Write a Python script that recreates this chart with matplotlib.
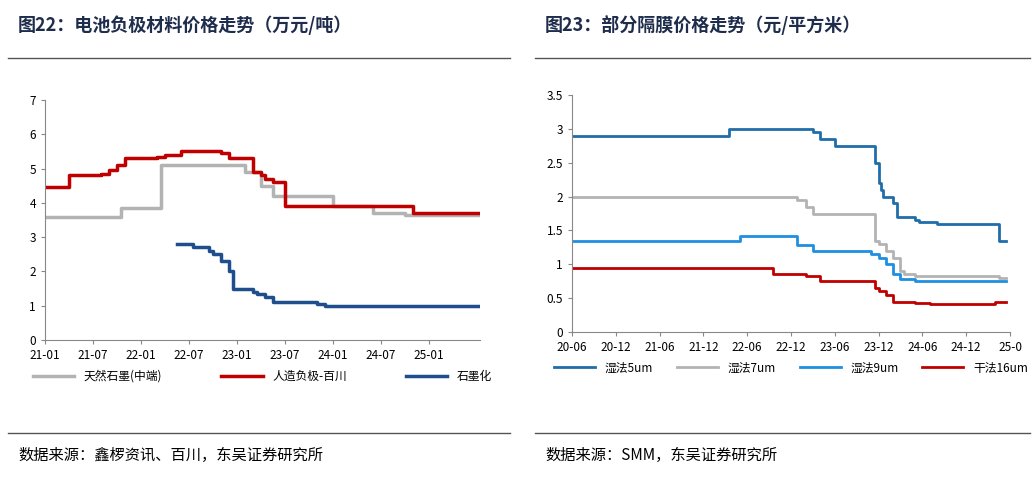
import matplotlib
matplotlib.use("Agg")
import matplotlib.pyplot as plt
import numpy as np
plt.rcParams['font.family'] = ['Noto Sans CJK SC', 'DejaVu Sans']

# Left chart (month index, 0 = 21-01)
l_ticks = ["21-01","21-07","22-01","22-07","23-01","23-07","24-01","24-07","25-01"]
nat_x = [0,9.5,14.5,25,27,28.5,36,41,45,54.2]
nat_y = [3.6,3.85,5.1,4.9,4.5,4.2,3.9,3.7,3.65,3.65]
art_x = [0,3,7,8,9,10,14,15,17,22,23,26,27,27.5,28.5,30,31,46,54.2]
art_y = [4.45,4.8,4.85,4.95,5.1,5.3,5.35,5.4,5.5,5.45,5.3,4.9,4.8,4.7,4.6,3.9,3.9,3.7,3.7]
gra_x = [16.5,18.5,20.5,21,22,23,23.5,24,26,26.5,27.5,28.5,29,34,35,54.2]
gra_y = [2.8,2.7,2.6,2.5,2.3,2.0,1.5,1.5,1.4,1.35,1.25,1.1,1.1,1.05,1.0,1.0]

# Right chart (month index, 0 = 20-06)
r_ticks = ["20-06","20-12","21-06","21-12","22-06","22-12","23-06","23-12","24-06","24-12","25-0"]
w5_x = [0,21.5,33,34,36,41.5,42,42.3,42.6,44,44.5,47,47.5,48,50,58.5,59.5]
w5_y = [2.9,3.0,2.95,2.85,2.75,2.5,2.2,2.1,2.0,1.9,1.7,1.65,1.62,1.62,1.6,1.35,1.35]
w7_x = [0,30.8,32,33,41.5,42,43,44,45,45.5,47,58.5,59.5]
w7_y = [2.0,1.95,1.85,1.75,1.35,1.3,1.2,1.1,0.9,0.85,0.83,0.8,0.8]
w9_x = [0,23,30.8,33,41,42,43,44,45,47,49,59.5]
w9_y = [1.35,1.42,1.28,1.2,1.15,1.1,1.0,0.85,0.78,0.76,0.75,0.75]
d16_x = [0,27.6,32,34,41.5,42,43,44,47,49,58,59.5]
d16_y = [0.95,0.85,0.83,0.75,0.65,0.6,0.55,0.45,0.43,0.42,0.44,0.44]

fig = plt.figure(figsize=(10.35,4.78), dpi=100)
W,H = 1035,478
def ax_at(x0,y0,x1,y1):
    return fig.add_axes([x0/W, 1-y1/H, (x1-x0)/W, (y1-y0)/H])

fig.text(18/W, 1-25/H, "图22：电池负极材料价格走势（万元/吨）", fontsize=13, fontweight='bold', color='#1f2d4d', va='center')
fig.text(545/W, 1-25/H, "图23：部分隔膜价格走势（元/平方米）", fontsize=13, fontweight='bold', color='#1f2d4d', va='center')
for x0,x1 in [(8,510),(535,1030)]:
    fig.add_artist(plt.Line2D([x0/W,x1/W],[1-58/H]*2, color='#555555', lw=1))
    fig.add_artist(plt.Line2D([x0/W,x1/W],[1-433/H]*2, color='#555555', lw=1))
fig.text(18/W, 1-455/H, "数据来源：鑫椤资讯、百川，东吴证券研究所", fontsize=11, va='center')
fig.text(545/W, 1-455/H, "数据来源：SMM，东吴证券研究所", fontsize=11, va='center')

def style(ax):
    for s in ['top','right']: ax.spines[s].set_visible(False)
    for s in ['left','bottom']: ax.spines[s].set_color('#888888')
    ax.tick_params(labelsize=8.5, length=3, color='#888888')

ax1 = ax_at(45,100,480,340)
ax1.step(nat_x, nat_y, where='post', color='#b3b3b3', lw=2.5, label='天然石墨(中端)')
ax1.step(art_x, art_y, where='post', color='#c00000', lw=2.5, label='人造负极-百川')
ax1.step(gra_x, gra_y, where='post', color='#1f4e8c', lw=2.5, label='石墨化')
ax1.set_ylim(0,7); ax1.set_xlim(0,54.4)
ax1.set_xticks(np.arange(0,49,6)); ax1.set_xticklabels(l_ticks)
style(ax1)
ax1.legend(loc='upper center', bbox_to_anchor=(0.5,-0.08), ncol=3, frameon=False, fontsize=8.5, columnspacing=5, handlelength=3.5)

ax2 = ax_at(572,95,1010,332)
ax2.step(w5_x, w5_y, where='post', color='#1f6eaa', lw=2, label='湿法5um')
ax2.step(w7_x, w7_y, where='post', color='#b3b3b3', lw=2, label='湿法7um')
ax2.step(w9_x, w9_y, where='post', color='#1f8fe0', lw=2, label='湿法9um')
ax2.step(d16_x, d16_y, where='post', color='#c00000', lw=2, label='干法16um')
ax2.set_ylim(0,3.5); ax2.set_xlim(0,60)
ax2.set_yticks(np.arange(0,3.6,0.5)); ax2.set_yticklabels(['0','0.5','1','1.5','2','2.5','3','3.5'])
ax2.set_xticks(np.arange(0,61,6)); ax2.set_xticklabels(r_ticks)
style(ax2)
ax2.legend(loc='upper center', bbox_to_anchor=(0.5,-0.08), ncol=4, frameon=False, fontsize=8.5, columnspacing=2, handlelength=3.5)

fig.savefig("out.png", dpi=100)
